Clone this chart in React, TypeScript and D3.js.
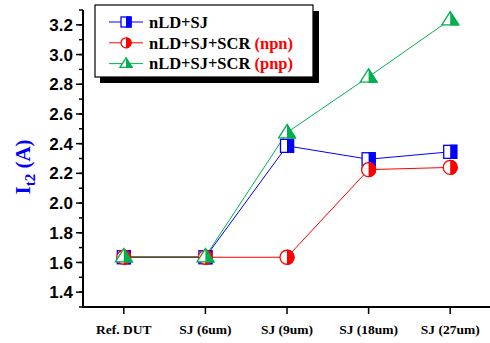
import React from "react";
import * as d3 from "d3";

const categories = ["Ref. DUT", "SJ (6um)", "SJ (9um)", "SJ (18um)", "SJ (27um)"];
const seriesNames = ["nLD+SJ", "nLD+SJ+SCR", "nLD+SJ+SCR"];
const seriesSuffix = ["", "(npn)", "(pnp)"];
const blueValues = [1.635, 1.635, 2.385, 2.295, 2.345];
const redValues = [1.635, 1.635, 1.635, 2.225, 2.24];
const greenValues = [1.64, 1.64, 2.475, 2.85, 3.235];
const yTicks = [1.4, 1.6, 1.8, 2.0, 2.2, 2.4, 2.6, 2.8, 3.0, 3.2];
const colors = ["#0000ff", "#ff0000", "#00b050"];
const markerTypes = ["square", "circle", "triangle"];

const W = 490, H = 343;
const x = d3.scaleLinear().domain([-0.5, 4.5]).range([83, 491]);
const y = d3.scaleLinear().domain([1.3, 3.3]).range([307, 10]);

function Marker({ type, cx, cy, color, s }: { type: string; cx: number; cy: number; color: string; s: number }) {
  const id = `clip-${type}-${Math.round(cx)}-${Math.round(cy)}`;
  let shape: React.ReactNode;
  if (type === "square") {
    shape = <rect x={cx - s / 2} y={cy - s / 2} width={s} height={s} />;
  } else if (type === "circle") {
    shape = <circle cx={cx} cy={cy} r={s / 2} />;
  } else {
    const h = s * 0.95;
    shape = <polygon points={`${cx},${cy - h * 0.6} ${cx - s * 0.6},${cy + h * 0.4} ${cx + s * 0.6},${cy + h * 0.4}`} />;
  }
  return (
    <g>
      <clipPath id={id}>
        <rect x={cx} y={cy - s} width={s} height={s * 2} />
      </clipPath>
      <g fill="#fff" stroke={color} strokeWidth={1.3}>{shape}</g>
      <g fill={color} stroke={color} strokeWidth={1.3} clipPath={`url(#${id})`}>{shape}</g>
    </g>
  );
}

export default function App() {
  const series = [blueValues, redValues, greenValues];
  const line = d3.line<number>().x((_, i) => x(i)).y((d) => y(d));
  const minorTicks = d3.range(13, 34).map((v) => v / 10);
  const order = [0, 1, 2];
  return (
    <svg width={W} height={H} style={{ position: "absolute", left: 0, top: 0, background: "#fff" }}>
      {/* axes */}
      <line x1={83} x2={83} y1={10} y2={308} stroke="#000" strokeWidth={2} />
      <line x1={82} x2={491} y1={307} y2={307} stroke="#000" strokeWidth={2} />
      {minorTicks.map((v) => (
        <line key={"m" + v} x1={79} x2={83} y1={y(v)} y2={y(v)} stroke="#000" strokeWidth={1.5} />
      ))}
      {yTicks.map((v) => (
        <g key={"t" + v}>
          <line x1={76} x2={83} y1={y(v)} y2={y(v)} stroke="#000" strokeWidth={1.5} />
          <text x={73} y={y(v)} dy="0.36em" textAnchor="end" fontFamily="Liberation Sans, Arial, sans-serif" fontWeight="bold" fontSize={17} fill="#000">
            {v.toFixed(1)}
          </text>
        </g>
      ))}
      {categories.map((c, i) => (
        <g key={c}>
          <line x1={x(i)} x2={x(i)} y1={307} y2={314} stroke="#000" strokeWidth={1.5} />
          <text x={x(i)} y={334} textAnchor="middle" fontFamily="Liberation Serif, Times New Roman, serif" fontWeight="bold" fontSize={13.5} fill="#000">
            {c}
          </text>
        </g>
      ))}
      <text transform={`translate(30,167) rotate(-90)`} textAnchor="middle" fontFamily="Liberation Serif, Times New Roman, serif" fontWeight="bold" fontSize={21} fill="#0000ff">
        I<tspan fontSize={15} dy={5}>t2</tspan><tspan dy={-5}> (A)</tspan>
      </text>
      {/* lines */}
      {order.map((k) => (
        <path key={"l" + k} d={line(series[k]) || ""} fill="none" stroke={colors[k]} strokeWidth={1} />
      ))}
      {/* markers */}
      {order.map((k) =>
        series[k].map((v, i) => (
          <Marker key={`mk${k}-${i}`} type={markerTypes[k]} cx={x(i)} cy={y(v)} color={colors[k]} s={k === 0 ? 13 : 14} />
        ))
      )}
      {/* legend */}
      <rect x={100} y={11} width={219} height={72} fill="#000" />
      <rect x={95} y={5} width={218} height={72} fill="#fff" stroke="#000" strokeWidth={1.2} />
      {order.map((k) => {
        const ly = 22 + k * 20.8;
        return (
          <g key={"lg" + k}>
            <line x1={109} x2={143} y1={ly} y2={ly} stroke={colors[k]} strokeWidth={1} />
            <Marker type={markerTypes[k]} cx={126} cy={ly} color={colors[k]} s={10} />
            <text x={149} y={ly} dy="0.35em" fontFamily="Liberation Serif, Times New Roman, serif" fontWeight="bold" fontSize={16.5} fill="#000">
              {seriesNames[k]}
              {seriesSuffix[k] ? <tspan fill="#ff0000">{" " + seriesSuffix[k]}</tspan> : null}
            </text>
          </g>
        );
      })}
    </svg>
  );
}
